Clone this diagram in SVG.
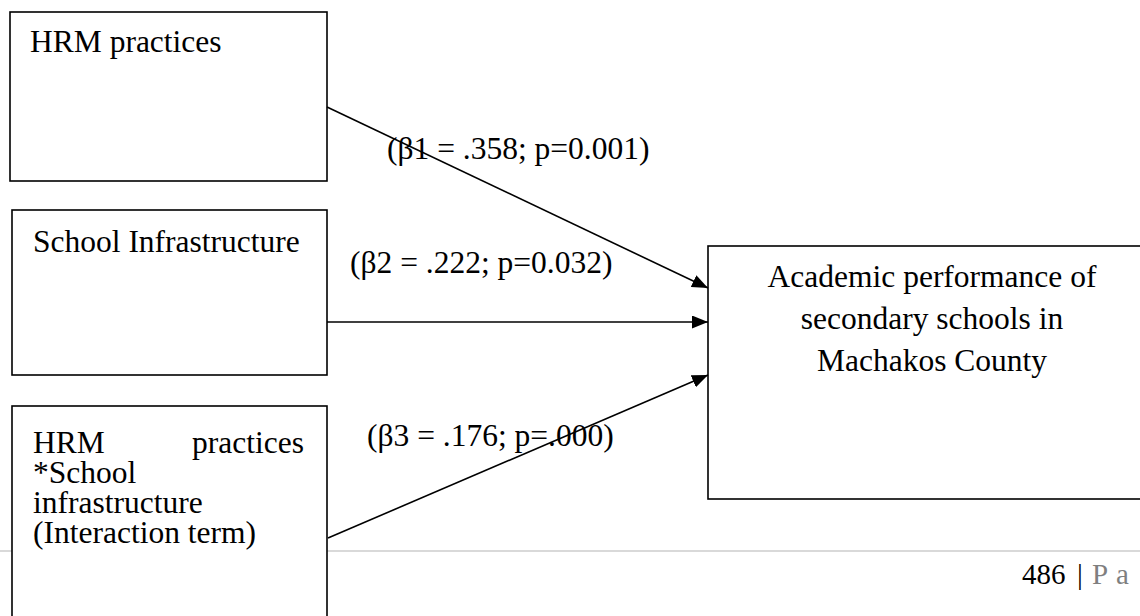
<svg xmlns="http://www.w3.org/2000/svg" width="1140" height="616" viewBox="0 0 1140 616">
<style>
.box{fill:#fff;stroke:#000;stroke-width:1.6}
.t{font-family:"Liberation Serif","Times New Roman",serif;font-size:31.5px;fill:#000}
.c{text-anchor:middle}
.edge{stroke:#000;stroke-width:1.6;fill:none;marker-end:url(#ah)}
.ft{font-family:"Liberation Serif","Times New Roman",serif;font-size:29px}
</style>
<defs>
<marker id="ah" viewBox="0 0 16 13" refX="16" refY="6.5" markerWidth="16" markerHeight="13" markerUnits="userSpaceOnUse" orient="auto">
<path d="M0,0 L16,6.5 L0,13 Z" fill="#000"/>
</marker>
</defs>
<rect width="1140" height="616" fill="#fff"/>
<line x1="0" y1="551" x2="1140" y2="551" stroke="#d9d9d9" stroke-width="2"/>
<g id="footer">
<text class="ft" y="584"><tspan x="1022" fill="#000">486</tspan><tspan x="1077" fill="#000">|</tspan><tspan x="1092" fill="#7f7f7f">P</tspan><tspan x="1116" fill="#7f7f7f">a</tspan></text>
</g>
<g id="hrm">
<rect class="box" x="10" y="12" width="317" height="169"/>
<text class="t" x="30" y="52">HRM practices</text>
</g>
<g id="infra">
<rect class="box" x="12" y="210" width="315" height="165"/>
<text class="t" x="33" y="252">School Infrastructure</text>
</g>
<g id="interaction">
<rect class="box" x="12" y="406" width="315" height="230"/>
<text class="t"><tspan x="33" y="453">HRM</tspan><tspan x="192" y="453">practices</tspan><tspan x="33" y="483">*School</tspan><tspan x="33" y="513">infrastructure</tspan><tspan x="33" y="543">(Interaction term)</tspan></text>
</g>
<g id="academic">
<rect class="box" x="708" y="246" width="450" height="253"/>
<text class="t c" x="932" y="287">Academic performance of</text>
<text class="t c" x="932" y="329">secondary schools in</text>
<text class="t c" x="932" y="371">Machakos County</text>
</g>
<g id="connectors">
<line class="edge" x1="327" y1="107" x2="708" y2="288"/>
<line class="edge" x1="327" y1="322" x2="708" y2="322"/>
<line class="edge" x1="328" y1="538" x2="708" y2="375"/>
<text class="t" x="387" y="159">(β1 = .358; p=0.001)</text>
<text class="t" x="350" y="273">(β2 = .222; p=0.032)</text>
<text class="t" x="367" y="446">(β3 = .176; p=.000)</text>
</g>
</svg>
